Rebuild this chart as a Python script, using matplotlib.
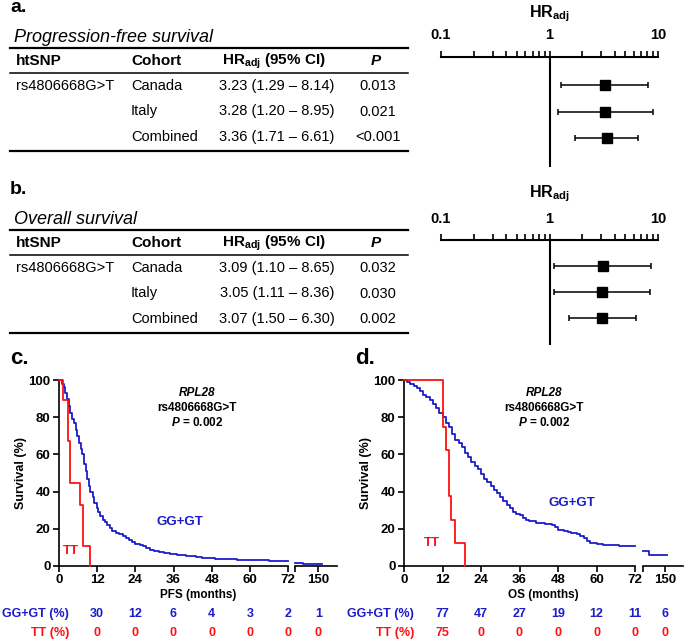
import numpy as np
import matplotlib
matplotlib.use("Agg")
import matplotlib.pyplot as plt
from matplotlib.transforms import blended_transform_factory

plt.rcParams['font.family'] = ['Liberation Sans', 'DejaVu Sans']
plt.rcParams['mathtext.fontset'] = 'custom'
plt.rcParams['mathtext.rm'] = 'Liberation Sans'
plt.rcParams['mathtext.it'] = 'Liberation Sans:italic:bold'
plt.rcParams['mathtext.bf'] = 'Liberation Sans:bold'

BLUE = '#1c1cc8'
RED = '#ff1010'

# ---- tables / forest data
snp = 'rs4806668G>T'
cohorts = ['Canada', 'Italy', 'Combined']
pfs_hr = [3.23, 3.28, 3.36]
pfs_lo = [1.29, 1.20, 1.71]
pfs_hi = [8.14, 8.95, 6.61]
pfs_p = ['0.013', '0.021', '<0.001']
os_hr = [3.09, 3.05, 3.07]
os_lo = [1.10, 1.11, 1.50]
os_hi = [8.65, 8.36, 6.30]
os_p = ['0.032', '0.030', '0.002']

# ---- Kaplan-Meier curves (months, survival %)
pfs_gg_t = [0, 0.8, 1.6, 2.0, 2.6, 3.0, 3.6, 4.0, 4.6, 5.3, 5.8, 6.2, 6.8, 7.2, 7.8, 8.4, 8.8, 9.4, 9.9, 10.6,
            11.0, 11.8, 12.4, 13.0, 13.8, 14.5, 15.2, 16.0, 16.8, 18.0, 19.0, 20.0, 21.2, 22.0, 23.0, 24.0, 25.5,
            26.5, 27.5, 28.5, 30.0, 31.5, 33.0, 35.0, 37.0, 40.0, 43.0, 45.0, 49.0, 52.0, 56.0, 66.0, 75.0, 117.0, 158.0]
pfs_gg_s = [100, 98, 96, 93, 90, 86, 82, 79, 77, 73, 70, 66, 63, 60, 55, 51, 47, 43, 40, 37,
            34, 31, 29, 27, 25, 23.5, 22, 20.5, 19, 18, 17, 16, 15, 14, 13, 12, 11.5,
            10.5, 9.5, 8.5, 8, 7.5, 7, 6.5, 6, 5.5, 5, 4.5, 4, 3.5, 3, 2.5, 1.5, 1.0, 1.0]
pfs_tt_t = [0, 1.3, 2.7, 3.4, 6.6, 7.5, 9.6]
pfs_tt_s = [100, 89, 67, 44.5, 33, 11, 0]

os_gg_t = list(range(0, 40)) + [41, 44, 46, 47, 48, 50, 51, 52, 53, 54, 55, 56, 57, 58, 60, 62, 67, 74, 113, 155]
os_gg_s = [100, 99, 98, 97, 95.5, 94, 92, 91, 89, 87, 85, 82.5, 80, 77, 75, 71, 68, 66, 64, 61,
           58.5, 56, 54, 52, 49.5, 47, 45, 43, 41, 39, 37, 35, 33, 31, 29, 28, 27.5, 26, 25, 24,
           23, 22.5, 22, 21, 19.5, 19, 18.5, 18, 17.5, 17, 16, 15, 13.5, 12.5, 12, 11.5, 10.5, 8.3, 6.1, 6.1]
os_tt_t = [0, 12.0, 13.0, 13.9, 14.8, 15.9, 19.0]
os_tt_s = [100, 75, 62.5, 37.5, 25, 12.5, 0]

risk_t = [12, 24, 36, 48, 60, 72, 150]
pfs_risk_gg = [30, 12, 6, 4, 3, 2, 1]
pfs_risk_tt = [0, 0, 0, 0, 0, 0, 0]
os_risk_gg = [77, 47, 27, 19, 12, 11, 6]
os_risk_tt = [75, 0, 0, 0, 0, 0, 0]

W, H = 685, 641
fig = plt.figure(figsize=(W / 100, H / 100), dpi=100)


def box(x0, y0, x1, y1):
    return fig.add_axes([x0 / W, 1 - y1 / H, (x1 - x0) / W, (y1 - y0) / H])


bg = fig.add_axes([0, 0, 1, 1])
bg.set_xlim(0, W)
bg.set_ylim(H, 0)
bg.axis('off')


def table(y0, label, title, hr, lo, hi, pv):
    bg.text(10, y0 + 8, label, fontsize=14, fontweight='bold', va='center')
    bg.text(14, y0 + 37, title, fontsize=13, style='italic', va='center')
    bg.plot([10, 408], [y0 + 48, y0 + 48], color='k', lw=1.6)
    bg.plot([10, 408], [y0 + 73, y0 + 73], color='k', lw=1.1)
    bg.plot([10, 408], [y0 + 151, y0 + 151], color='k', lw=1.6)
    hy = y0 + 61
    bg.text(16, hy, 'htSNP', fontsize=11, fontweight='bold', va='center')
    bg.text(131, hy, 'Cohort', fontsize=11, fontweight='bold', va='center')
    bg.text(274, hy, r'HR$_\mathregular{adj}$ (95% CI)', fontsize=11, fontweight='bold',
            va='center', ha='center')
    bg.text(376, hy, 'P', fontsize=11, fontweight='bold', style='italic', va='center', ha='center')
    bg.text(16, y0 + 86, snp, fontsize=10.5, va='center')
    for i, c in enumerate(cohorts):
        ry = y0 + 86 + 25.5 * i
        bg.text(131, ry, c, fontsize=10.5, va='center')
        bg.text(277, ry, f'{hr[i]:.2f} ({lo[i]:.2f} \u2013 {hi[i]:.2f})', fontsize=10.5,
                va='center', ha='center')
        bg.text(378, ry, pv[i], fontsize=10.5, va='center', ha='center')


def forest(top, first_row, step, bottom, hr, lo, hi, title_y, lab_y):
    ax = box(441, top, 658, bottom)
    n = len(hr)
    rows = np.arange(n)
    ax.set_xscale('log')
    ax.set_xlim(0.1, 10)
    ax.set_ylim((bottom - first_row) / step, (top - first_row) / step)
    for s in ['left', 'right', 'bottom']:
        ax.spines[s].set_visible(False)
    ax.spines['top'].set_linewidth(1.5)
    ax.xaxis.tick_top()
    ax.set_xticks([0.1, 1, 10])
    ax.set_xticklabels([])
    ax.tick_params(axis='x', which='both', direction='out', length=4, width=1.2)
    ax.set_yticks([])
    ax.patch.set_alpha(0)
    ax.axvline(1, color='k', lw=1.5)
    err = [np.array(hr) - np.array(lo), np.array(hi) - np.array(hr)]
    ax.errorbar(hr, rows, xerr=err, fmt='s', color='k', ms=7.5, lw=1.1, capsize=2.5, capthick=1.1)
    tr = blended_transform_factory(ax.transData, bg.transData)
    for v, s in zip([0.1, 1, 10], ['0.1', '1', '10']):
        ax.text(v, lab_y, s, transform=tr, fontsize=10.5, fontweight='bold', ha='center', va='center')
    bg.text(549, title_y, r'HR$_\mathregular{adj}$', fontsize=11.5, fontweight='bold',
            ha='center', va='center')


def seg_xy(t, s, lo, hi):
    t = np.asarray(t, float)
    s = np.asarray(s, float)
    end = min(hi, t[-1])
    if t[-1] <= lo:
        return None
    idx = np.searchsorted(t, lo, side='right') - 1
    inside = (t > lo) & (t < end)
    x = [lo] + list(t[inside]) + [end]
    y = [s[idx]] + list(s[inside]) + [s[t <= end][-1]]
    return x, y


def km(x0, x1, x2, x3, label, xlabel, gg, tt, risk_gg, risk_tt, note_x, gg_xy, tt_xy):
    y0, y1 = 380, 566
    a1 = box(x0, y0, x1, y1)
    a2 = box(x2, y0, x3, y1)
    a1.set_xlim(0, 72)
    a2.set_xlim(100, 190)
    for ax in (a1, a2):
        ax.set_ylim(0, 100)
        ax.patch.set_alpha(0)
        for s in ['top', 'right']:
            ax.spines[s].set_visible(False)
        for s in ['left', 'bottom']:
            ax.spines[s].set_linewidth(1.2)
        ax.tick_params(direction='out', length=4, width=1.2, labelsize=9.5, pad=2)
        for (t, s), col in ((gg, BLUE), (tt, RED)):
            lim = ax.get_xlim()
            xy = seg_xy(t, s, lim[0], lim[1])
            if xy is not None:
                ax.plot(xy[0], xy[1], drawstyle='steps-post', color=col, lw=1.3, clip_on=False,
                        zorder=3 if col == RED else 2)
    a1.set_xticks([0, 12, 24, 36, 48, 60, 72])
    a1.set_yticks([0, 20, 40, 60, 80, 100])
    a2.set_xticks([100, 150])
    a2.set_xticklabels(['', '150'])
    a2.spines['left'].set_visible(False)
    a2.set_yticks([])
    for ax in (a1, a2):
        for lab in ax.get_xticklabels() + ax.get_yticklabels():
            lab.set_fontweight('bold')
    a1.set_ylabel('Survival (%)', fontsize=9, fontweight='bold')
    a1.yaxis.set_label_coords(-32 / (x1 - x0), 0.5)

    bg.text(x0 - 49, 358, label, fontsize=16, fontweight='bold', va='center')
    bg.text((x0 + x3) / 2, 595, xlabel, fontsize=8.5, fontweight='bold', ha='center', va='center')
    bg.text(note_x, 393, 'RPL28', fontsize=8.5, fontweight='bold', style='italic', ha='center', va='center')
    bg.text(note_x, 408, snp, fontsize=8.5, fontweight='bold', ha='center', va='center')
    bg.text(note_x, 423, r'$P$ = 0.002', fontsize=8.5, fontweight='bold', ha='center', va='center')
    bg.text(gg_xy[0], gg_xy[1], 'GG+GT', fontsize=9.5, fontweight='bold', color=BLUE, ha='center', va='center')
    bg.text(tt_xy[0], tt_xy[1], 'TT', fontsize=9.5, fontweight='bold', color=RED, ha='center', va='center')

    bg.text(x0 + 10, 614, 'GG+GT (%)', fontsize=9, fontweight='bold', color=BLUE, ha='right', va='center')
    bg.text(x0 + 10, 633, 'TT (%)', fontsize=9, fontweight='bold', color=RED, ha='right', va='center')
    for t, g, r in zip(risk_t, risk_gg, risk_tt):
        ax = a1 if t <= 72 else a2
        tr = blended_transform_factory(ax.transData, bg.transData)
        ax.text(t, 614, str(g), transform=tr, fontsize=9, fontweight='bold', color=BLUE, ha='center', va='center')
        ax.text(t, 633, str(r), transform=tr, fontsize=9, fontweight='bold', color=RED, ha='center', va='center')


table(0, 'a.', 'Progression-free survival', pfs_hr, pfs_lo, pfs_hi, pfs_p)
table(182, 'b.', 'Overall survival', os_hr, os_lo, os_hi, os_p)
forest(57, 85, 26.5, 167, pfs_hr, pfs_lo, pfs_hi, 14, 35)
forest(240, 266, 26, 345, os_hr, os_lo, os_hi, 194, 219)

km(59, 288, 295, 337, 'c.', 'PFS (months)', (pfs_gg_t, pfs_gg_s), (pfs_tt_t, pfs_tt_s),
   pfs_risk_gg, pfs_risk_tt, 197, (180, 522), (71, 551))
km(404, 635, 643, 683, 'd.', 'OS (months)', (os_gg_t, os_gg_s), (os_tt_t, os_tt_s),
   os_risk_gg, os_risk_tt, 544, (572, 503), (432, 543))

fig.savefig('out.png', dpi=100)
